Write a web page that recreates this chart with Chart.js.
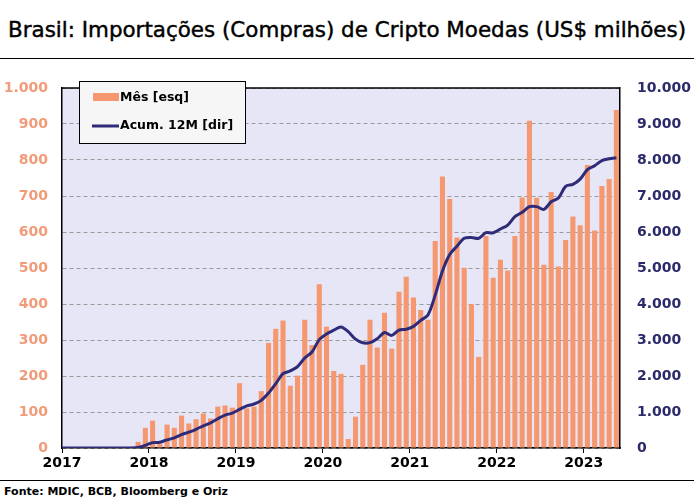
<!DOCTYPE html>
<html>
<head>
<meta charset="utf-8">
<script src="https://cdn.jsdelivr.net/npm/chart.js@4.4.0/dist/chart.umd.min.js"></script>
<style>
  body { margin: 0; background: #fff; }
  #pagina { position: relative; width: 694px; height: 501px; overflow: hidden; }
  #titulo { position: absolute; left: 0; top: 0; width: 694px; height: 58px; border-bottom: 1.5px solid #000; }
  #titulo span { position: absolute; left: 8px; top: 17px; font: 22px "DejaVu Sans", sans-serif; color: #000; white-space: nowrap; transform-origin: 0 50%; -webkit-text-stroke: 0.45px #000; }
  #grafico { position: absolute; left: 0; top: 60px; }
  #fonte { position: absolute; left: 0; top: 480px; width: 694px; height: 21px; border-top: 1.5px solid #000; }
  #fonte span { position: absolute; left: 4px; top: 4px; font: bold 11px "DejaVu Sans", sans-serif; color: #000; white-space: nowrap; }
</style>
</head>
<body>
<div id="pagina">
  <div id="titulo"><span>Brasil: Importações (Compras) de Cripto Moedas (US$ milhões)</span></div>
  <canvas id="grafico" width="694" height="420"></canvas>
  <div id="fonte"><span>Fonte: MDIC, BCB, Bloomberg e Oriz</span></div>
</div>
<script>
// Dados mensais (jan/2017 a mai/2023)
const anos = ["2017", "2018", "2019", "2020", "2021", "2022", "2023"];

const mes = [
  0, 0, 0, 0, 0, 0, 0, 0, 0, 0, 17, 56,                  // 2017
  76, 12, 65, 56, 90, 68, 80, 96, 82, 115, 118, 112,     // 2018
  180, 110, 115, 158, 292, 331, 354, 173, 201, 356, 286, 455, // 2019
  337, 214, 206, 25, 87, 231, 356, 279, 376, 276, 434, 476,   // 2020
  418, 383, 356, 575, 754, 692, 585, 501, 399, 253, 589, 473, // 2021
  523, 493, 589, 696, 909, 695, 509, 711, 504, 578, 643, 619, // 2022
  786, 604, 728, 747, 939                                // 2023
];

const acum12m = [
  0, 0, 0, 0, 0, 0, 0, 0, 0, 0, 17, 73,
  149, 161, 226, 282, 372, 440, 520, 616, 698, 813, 914, 970,
  1074, 1172, 1222, 1324, 1526, 1789, 2063, 2140, 2259, 2500, 2668, 3011,
  3168, 3272, 3363, 3230, 3025, 2925, 2927, 3033, 3208, 3128, 3276, 3297,
  3378, 3547, 3697, 4247, 4914, 5375, 5604, 5826, 5849, 5826, 5981, 5978,
  6083, 6193, 6426, 6547, 6702, 6705, 6629, 6839, 6944, 7269, 7323, 7469,
  7732, 7843, 7982, 8033, 8063
];

const corBarra = "#f5976f";
const corLinha = "#2e2b78";

// Ajusta o título à largura original
const tituloSpan = document.querySelector("#titulo span");
const larguraTitulo = tituloSpan.getBoundingClientRect().width;
tituloSpan.style.transform = `scaleX(${678 / larguraTitulo})`;

const milhar = (v) => v.toLocaleString("de-DE");

const fundoEBorda = {
  id: "fundoEBorda",
  beforeDraw: (chart) => {
    const { ctx, chartArea: a } = chart;
    ctx.save();
    ctx.fillStyle = "#e6e6f6";
    ctx.fillRect(a.left, a.top, a.right - a.left, a.bottom - a.top);
    ctx.restore();
  },
  afterDraw: (chart) => {
    const { ctx, chartArea: a } = chart;
    ctx.save();
    ctx.strokeStyle = "#000";
    ctx.lineWidth = 1.5;
    ctx.beginPath();
    ctx.moveTo(a.left, a.top);
    ctx.lineTo(a.right, a.top);
    ctx.stroke();

    // Legenda
    ctx.fillStyle = "#f6f6f6";
    ctx.fillRect(79.5, 21.5, 166, 62);
    ctx.lineWidth = 1;
    ctx.strokeRect(79.5, 21.5, 166, 62);

    ctx.fillStyle = corBarra;
    ctx.fillRect(93, 33, 26, 8);
    ctx.strokeStyle = corLinha;
    ctx.lineWidth = 3;
    ctx.beginPath();
    ctx.moveTo(92, 66);
    ctx.lineTo(119, 66);
    ctx.stroke();

    ctx.fillStyle = "#000";
    ctx.font = "bold 12.5px 'DejaVu Sans'";
    ctx.textBaseline = "middle";
    ctx.fillText("Mês [esq]", 120, 37.5);
    ctx.fillText("Acum. 12M [dir]", 120, 66);
    ctx.restore();
  }
};

new Chart(document.getElementById("grafico"), {
  type: "bar",
  data: {
    datasets: [
      {
        type: "line",
        label: "Acum. 12M [dir]",
        data: acum12m.map((v, i) => ({ x: i === 0 ? 0 : i + 0.5, y: v })),
        yAxisID: "y2",
        borderColor: corLinha,
        borderWidth: 3,
        pointRadius: 0,
        tension: 0.3,
        order: 1
      },
      {
        label: "Mês [esq]",
        data: mes.map((v, i) => ({ x: i + 0.5, y: v })),
        yAxisID: "y",
        backgroundColor: corBarra,
        barPercentage: 0.7,
        categoryPercentage: 1,
        order: 2
      }
    ]
  },
  options: {
    responsive: false,
    animation: false,
    layout: { padding: { top: 28, left: 0, right: 0, bottom: 0 } },
    plugins: {
      legend: { display: false },
      tooltip: { enabled: false }
    },
    scales: {
      x: {
        type: "linear",
        min: 0,
        max: mes.length,
        offset: false,
        afterBuildTicks: (s) => { s.ticks = s.ticks.filter((t) => t.value % 12 === 0); },
        afterFit: (s) => { s.height = 32; },
        ticks: {
          stepSize: 12,
          autoSkip: false,
          maxRotation: 0,
          padding: 2,
          color: "#000",
          font: { family: "DejaVu Sans", size: 14, weight: "bold" },
          callback: (v) => anos[v / 12]
        },
        grid: { offset: false, drawOnChartArea: false, drawTicks: true, tickLength: 5, color: "#000" },
        border: { display: true, color: "#000", width: 1.5 }
      },
      y: {
        position: "left",
        min: 0,
        max: 1000,
        afterFit: (s) => { s.width = 62; },
        ticks: {
          stepSize: 100,
          padding: 14,
          color: "#f29b7a",
          font: { family: "DejaVu Sans", size: 14, weight: "bold" },
          callback: (v) => milhar(v)
        },
        grid: { color: "#9a9a9a", drawTicks: false, lineWidth: 1 },
        border: { display: true, color: "#000", width: 1.5, dash: [4, 3] }
      },
      y2: {
        position: "right",
        min: 0,
        max: 10000,
        afterFit: (s) => { s.width = 74; },
        ticks: {
          stepSize: 1000,
          padding: 17,
          color: "#2b2a6b",
          font: { family: "DejaVu Sans", size: 14, weight: "bold" },
          callback: (v) => milhar(v)
        },
        grid: { drawOnChartArea: false, drawTicks: false },
        border: { display: true, color: "#000", width: 1.5 }
      }
    }
  },
  plugins: [fundoEBorda]
});
</script>
</body>
</html>
